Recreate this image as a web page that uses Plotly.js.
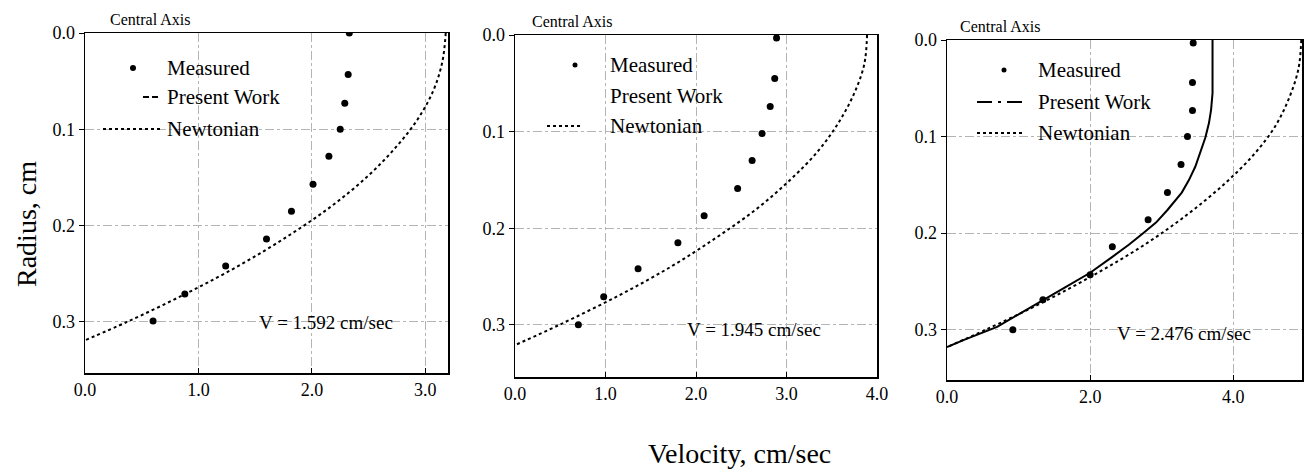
<!DOCTYPE html>
<html>
<head>
<meta charset="utf-8">
<script src="https://cdn.plot.ly/plotly-3.0.1.min.js"></script>
<style>html,body{margin:0;padding:0;background:#fff;}#chart{width:1304px;height:473px;}</style>
</head>
<body>
<div id="chart"></div>
<script>
// ---- Data ----
// Panel 1: V = 1.592 cm/sec
const p1MeasV = [2.33, 2.32, 2.29, 2.25, 2.15, 2.01, 1.82, 1.60, 1.24, 0.88, 0.60];
const p1MeasR = [0.000, 0.043, 0.073, 0.100, 0.128, 0.157, 0.185, 0.214, 0.242, 0.271, 0.299];
const p1NewtV = [3.18, 3.15, 3.07, 2.93, 2.73, 2.48, 2.17, 1.80, 1.38, 0.90, 0.37, 0.00];
const p1NewtR = [0.000, 0.030, 0.060, 0.090, 0.120, 0.150, 0.180, 0.210, 0.240, 0.270, 0.300, 0.319];

// Panel 2: V = 1.945 cm/sec
const p2MeasV = [2.89, 2.87, 2.82, 2.73, 2.62, 2.46, 2.09, 1.80, 1.36, 0.98, 0.70];
const p2MeasR = [0.003, 0.045, 0.074, 0.102, 0.130, 0.159, 0.187, 0.215, 0.242, 0.271, 0.300];
const p2NewtV = [3.89, 3.86, 3.75, 3.58, 3.35, 3.04, 2.67, 2.22, 1.72, 1.14, 0.49, 0.00];
const p2NewtR = [0.000, 0.030, 0.060, 0.090, 0.120, 0.150, 0.180, 0.210, 0.240, 0.270, 0.300, 0.321];

// Panel 3: V = 2.476 cm/sec
const p3MeasV = [3.44, 3.43, 3.43, 3.36, 3.27, 3.08, 2.81, 2.31, 2.00, 1.34, 0.92];
const p3MeasR = [0.003, 0.044, 0.073, 0.100, 0.129, 0.158, 0.186, 0.214, 0.243, 0.269, 0.300];
const p3PresV = [3.71, 3.71, 3.69, 3.66, 3.61, 3.54, 3.47, 3.38, 3.28, 3.08, 2.92, 2.74, 2.54, 2.32, 2.00, 1.65, 1.34, 1.00, 0.70, 0.45, 0.22, 0.00];
const p3PresR = [0.000, 0.055, 0.072, 0.086, 0.101, 0.117, 0.131, 0.145, 0.158, 0.176, 0.189, 0.200, 0.212, 0.224, 0.241, 0.256, 0.269, 0.284, 0.297, 0.304, 0.311, 0.318];
const p3NewtV = [4.95, 4.91, 4.78, 4.58, 4.27, 3.86, 3.37, 2.80, 2.13, 1.38, 0.54, 0.00];
const p3NewtR = [0.000, 0.030, 0.060, 0.090, 0.120, 0.150, 0.180, 0.210, 0.240, 0.270, 0.300, 0.318];

// Tick labels
const yTickVals = [0, 0.1, 0.2, 0.3];
const yTickText = ['0.0', '0.1', '0.2', '0.3'];
const x1TickVals = [0, 1, 2, 3];
const x1TickText = ['0.0', '1.0', '2.0', '3.0'];
const x2TickVals = [0, 1, 2, 3, 4];
const x2TickText = ['0.0', '1.0', '2.0', '3.0', '4.0'];
const x3TickVals = [0, 2, 4];
const x3TickText = ['0.0', '2.0', '4.0'];

const legendLabels = ['Measured', 'Present Work', 'Newtonian'];
const velocityNotes = ['V = 1.592 cm/sec', 'V = 1.945 cm/sec', 'V = 2.476 cm/sec'];

// ---- Layout helpers ----
const W = 1304, H = 473;
const FONT = '"Liberation Serif", "Times New Roman", serif';
const px = x => x / W;
const py = y => 1 - y / H;

const meas = (x, y, xa, ya) => ({x: x, y: y, xaxis: xa, yaxis: ya, type: 'scatter', mode: 'markers',
  marker: {color: '#000', size: 7, symbol: 'circle'}, hoverinfo: 'skip'});
const newt = (x, y, xa, ya) => ({x: x, y: y, xaxis: xa, yaxis: ya, type: 'scatter', mode: 'lines',
  line: {color: '#000', width: 2, dash: 'dot', shape: 'spline'}, hoverinfo: 'skip'});
const pres = (x, y, xa, ya) => ({x: x, y: y, xaxis: xa, yaxis: ya, type: 'scatter', mode: 'lines',
  line: {color: '#000', width: 2, shape: 'linear'}, hoverinfo: 'skip'});

const data = [
  newt(p1NewtV, p1NewtR, 'x', 'y'),
  meas(p1MeasV, p1MeasR, 'x', 'y'),
  newt(p2NewtV, p2NewtR, 'x2', 'y2'),
  meas(p2MeasV, p2MeasR, 'x2', 'y2'),
  newt(p3NewtV, p3NewtR, 'x3', 'y3'),
  pres(p3PresV, p3PresR, 'x3', 'y3'),
  meas(p3MeasV, p3MeasR, 'x3', 'y3')
];

function xAx(domain, range, tv, tt) {
  return {domain: domain, range: range, tickvals: tv, ticktext: tt, ticks: 'inside', ticklen: 5,
    tickcolor: '#000', showline: true, mirror: true, linecolor: '#000', linewidth: 1.5,
    showgrid: true, gridcolor: '#b4b4b4', griddash: 'dashdot', gridwidth: 1, zeroline: false,
    tickfont: {family: FONT, size: 18, color: '#000'}, fixedrange: true};
}
function yAx(domain, range, anchor) {
  return {domain: domain, range: range, anchor: anchor, tickvals: yTickVals, ticktext: yTickText,
    ticks: 'outside', ticklen: 5, tickcolor: '#000', showline: true, mirror: true, linecolor: '#000',
    linewidth: 1.5, showgrid: true, gridcolor: '#b4b4b4', griddash: 'dashdot', gridwidth: 1,
    zeroline: false, tickfont: {family: FONT, size: 18, color: '#000'}, fixedrange: true};
}

const layout = {
  width: W, height: H,
  margin: {l: 0, r: 0, t: 0, b: 0, pad: 0},
  paper_bgcolor: '#fff', plot_bgcolor: '#fff',
  showlegend: false,
  font: {family: FONT, color: '#000'},
  xaxis: Object.assign(xAx([px(85), px(448)], [0, 3.2], x1TickVals, x1TickText), {anchor: 'y'}),
  yaxis: yAx([py(373), py(33)], [0.353, 0], 'x'),
  xaxis2: Object.assign(xAx([px(515), px(877)], [0, 4.0], x2TickVals, x2TickText), {anchor: 'y2'}),
  yaxis2: yAx([py(377), py(35)], [0.354, 0], 'x2'),
  xaxis3: Object.assign(xAx([px(947), px(1302)], [0, 4.96], x3TickVals, x3TickText), {anchor: 'y3'}),
  yaxis3: yAx([py(380), py(40)], [0.352, 0], 'x3'),
  annotations: [],
  shapes: []
};

function txt(text, x, y, size, xanchor, extra) {
  layout.annotations.push(Object.assign({text: text, x: px(x), y: py(y), xref: 'paper', yref: 'paper',
    xanchor: xanchor || 'left', yanchor: 'middle', showarrow: false,
    font: {family: FONT, size: size, color: '#000'}}, extra || {}));
}
function dot(x, y, r) {
  layout.shapes.push({type: 'circle', xref: 'paper', yref: 'paper', x0: px(x - r), x1: px(x + r),
    y0: py(y + r), y1: py(y - r), fillcolor: '#000', line: {width: 0}});
}
function seg(x0, x1, y, dash) {
  layout.shapes.push({type: 'line', xref: 'paper', yref: 'paper', x0: px(x0), x1: px(x1),
    y0: py(y), y1: py(y), line: {color: '#000', width: 2, dash: dash}});
}

// Axis titles
txt('Radius, cm', 26, 224, 28, 'center', {textangle: -90});
txt('Velocity, cm/sec', 739, 453, 28, 'center');

// "Central Axis" labels
txt('Central Axis', 108, 19, 16);
txt('Central Axis', 530, 22, 16);
txt('Central Axis', 958, 27, 16);

// Legends
dot(133, 68, 3); txt(legendLabels[0], 165, 68, 21);
seg(143, 160, 97, '6px,3px'); txt(legendLabels[1], 165, 97, 21);
seg(103, 160, 129, 'dot'); txt(legendLabels[2], 165, 129, 21);

dot(575, 65, 2.5); txt(legendLabels[0], 608, 65, 21);
txt(legendLabels[1], 608, 96, 21);
seg(547, 580, 126, 'dot'); txt(legendLabels[2], 608, 126, 21);

dot(1004, 70, 2.5); txt(legendLabels[0], 1036, 70, 21);
seg(977, 1023, 102, 'longdashdot'); txt(legendLabels[1], 1036, 102, 21);
seg(977, 1025, 133, 'dot'); txt(legendLabels[2], 1036, 133, 21);

// Velocity notes
txt(velocityNotes[0], 257, 322, 19);
txt(velocityNotes[1], 685, 329, 19);
txt(velocityNotes[2], 1115, 333, 19);

Plotly.newPlot('chart', data, layout, {staticPlot: true, displayModeBar: false});
</script>
</body>
</html>
